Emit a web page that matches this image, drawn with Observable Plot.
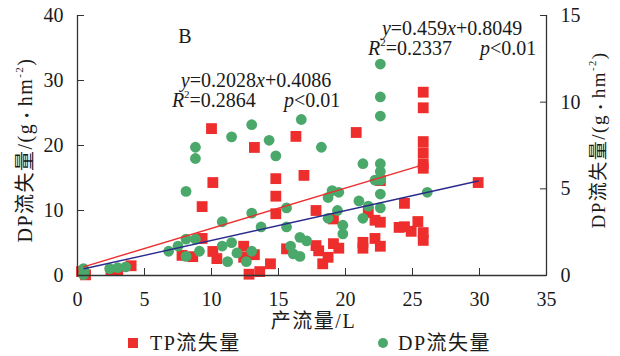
<!DOCTYPE html>
<html><head><meta charset="utf-8">
<script src="https://cdn.jsdelivr.net/npm/d3@7"></script>
<script src="https://cdn.jsdelivr.net/npm/@observablehq/plot@0.6"></script>
<style>
body{margin:0;background:#fff;}
#chart svg{display:block;}
.legend{position:relative;height:22px;width:620px;font-family:"Liberation Serif","Noto Sans CJK SC",serif;font-size:20px;color:#1a1a1a;}
.legend .sw{position:absolute;top:4px;width:10px;height:10px;}
.legend .lt{position:absolute;top:-3px;letter-spacing:1.5px;white-space:nowrap;line-height:24px;}
</style></head><body><div id="chart"></div>
<div class="legend" id="legend"></div>
<script>
// 产流量 (L) and TP流失量 (left axis, g·hm-2)
const tpX = [0.3,0.6,2.5,3.0,4.0,7.8,8.6,9.3,9.3,10.0,10.1,10.1,10.4,12.4,12.4,12.8,13.2,13.2,13.6,14.4,14.8,14.8,14.8,15.6,16.3,16.9,17.8,17.8,18.0,18.3,18.7,19.1,19.1,19.5,20.8,21.3,21.3,21.7,22.2,22.2,22.6,22.6,22.6,24.0,24.4,24.4,24.9,25.4,25.8,25.8,25.8,25.8,25.8,25.8,25.8,25.8,29.9];
const tpY = [0.6,0.1,0.8,0.8,1.5,3.1,2.9,5.7,10.6,22.6,14.3,3.7,2.6,4.5,2.8,0.2,3.2,19.7,0.6,1.8,14.9,12.2,9.5,4.1,21.4,15.4,10.0,4.6,3.8,1.8,2.8,8.7,4.9,4.2,22.0,5.1,4.2,9.7,8.5,5.7,8.2,4.5,14.6,7.4,7.5,11.1,6.8,8.3,6.6,5.4,16.5,17.2,18.9,20.6,25.8,28.2,14.3];
// 产流量 (L) and DP流失量 (right axis, g·hm-2)
const dpX = [0.45,0.45,0.5,2.4,3.0,3.6,6.8,7.5,8.1,8.1,8.1,8.8,8.8,8.8,9.1,10.8,10.8,11.2,11.5,11.5,11.9,12.6,13.0,13.0,13.0,13.7,14.3,14.8,15.6,15.6,15.9,16.1,16.6,16.6,16.7,17.1,18.2,18.7,18.7,19.0,19.4,19.5,19.8,19.8,21.0,21.3,21.3,21.7,22.2,22.6,22.6,22.6,22.6,22.6,22.6,22.6,22.6,26.1];
const dpY = [0.4,0.05,0.2,0.4,0.45,0.5,1.4,1.7,2.1,1.1,4.85,2.1,7.4,6.75,1.4,3.1,1.7,0.8,1.9,8.0,1.3,0.8,1.4,3.6,8.7,2.8,7.8,6.9,3.9,2.8,1.7,1.25,1.1,2.2,9.0,2.0,7.4,4.5,3.3,4.9,3.75,4.8,2.9,2.4,4.3,6.45,3.3,4.0,5.5,12.2,10.3,9.2,6.45,6.0,5.5,4.7,3.9,4.8];
// trend lines (end points)
const tpFitX = [0.5, 29.9], tpFitY = [1.03, 14.53];   // y=0.459x+0.8049, left axis
const dpFitX = [0.45, 25.4], dpFitY = [0.5, 6.3];     // right axis
// ticks
const xTicks = [0,5,10,15,20,25,30,35];
const leftTicks = [0,10,20,30,40];
const rightTicks = [0,5,10,15];
const leftMax = 40, rightMax = 15, xMax = 35;
// annotation anchors (data units, left axis)
const panelLabel = {x: 8.06, y: 35.7, text: "B"};
const eq1 = {x: 13.36, y1: 28.9, y2: 25.85, a: "0.2028", b: "0.4086", r2: "0.2864"};
const eq2 = {x: 27.99, y1: 36.9, y2: 33.85, a: "0.459", b: "0.8049", r2: "0.2337"};

const toLeft = v => v * leftMax / rightMax;
const tp = tpX.map((x, i) => ({x, y: tpY[i]}));
const dp = dpX.map((x, i) => ({x, y: toLeft(dpY[i])}));
const tpFit = tpFitX.map((x, i) => ({x, y: tpFitY[i]}));
const dpFit = dpFitX.map((x, i) => ({x, y: toLeft(dpFitY[i])}));

const font = '"Liberation Serif", "Noto Sans CJK SC", serif';
const plot = Plot.plot({
  width: 620, height: 334,
  marginLeft: 77, marginRight: 74, marginTop: 15, marginBottom: 59,
  style: {fontFamily: font, fontSize: "20px", color: "#1a1a1a", background: "#fff", overflow: "visible"},
  x: {domain: [0, xMax]},
  y: {domain: [0, leftMax]},
  marks: [
    Plot.dot(tp, {x: "x", y: "y", symbol: "square", r: 6.1, fill: "#ee2d2d"}),
    Plot.dot(dp, {x: "x", y: "y", symbol: "circle", r: 5.4, fill: "#4ba86b"}),
    Plot.line(tpFit, {x: "x", y: "y", stroke: "#2a2a8c", strokeWidth: 1.4}),
    Plot.line(dpFit, {x: "x", y: "y", stroke: "#ee2d2d", strokeWidth: 1.4}),
    Plot.ruleX([0, xMax], {stroke: "#333", strokeWidth: 1.3}),
    Plot.ruleY([0], {stroke: "#333", strokeWidth: 1.3}),
    Plot.axisX({ticks: xTicks, tickSize: -7, tickPadding: 23, label: null, stroke: "#333"}),
    Plot.axisY({ticks: leftTicks, anchor: "left", tickSize: -7, tickPadding: 21, label: null, stroke: "#333"}),
    Plot.axisY({ticks: rightTicks.map(toLeft), anchor: "right", tickSize: -7, tickPadding: 21, label: null, stroke: "#333",
      tickFormat: d => String(Math.round(d * rightMax / leftMax))})
  ]
});
document.getElementById("chart").appendChild(plot);

const sx = plot.scale("x"), sy = plot.scale("y");
const svg = d3.select(plot);
const g = svg.append("g").attr("font-family", font).attr("fill", "#1a1a1a");

g.append("text").attr("x", sx.apply(panelLabel.x)).attr("y", sy.apply(panelLabel.y))
  .attr("text-anchor", "middle").attr("font-size", 20).text(panelLabel.text);

function equation(e) {
  const cx = sx.apply(e.x);
  const t1 = g.append("text").attr("x", cx).attr("y", sy.apply(e.y1)).attr("text-anchor", "middle").attr("font-size", 20);
  t1.append("tspan").attr("font-style", "italic").text("y");
  t1.append("tspan").text("=" + e.a);
  t1.append("tspan").attr("font-style", "italic").text("x");
  t1.append("tspan").text("+" + e.b);
  const t2 = g.append("text").attr("x", cx).attr("y", sy.apply(e.y2)).attr("text-anchor", "middle").attr("font-size", 20);
  t2.append("tspan").attr("font-style", "italic").text("R");
  t2.append("tspan").attr("font-size", 11).attr("dy", -9).text("2");
  t2.append("tspan").attr("dy", 9).text("=" + e.r2);
  t2.append("tspan").attr("font-style", "italic").attr("dx", 28).text("p");
  t2.append("tspan").text("<0.01");
}
equation(eq1);
equation(eq2);

function yTitle(cx, cy, fs) {
  const t = g.append("text").attr("transform", `translate(${cx + 0.35 * fs},${cy}) rotate(-90)`)
    .attr("text-anchor", "middle").attr("font-size", fs).attr("letter-spacing", 1.5);
  t.append("tspan").text("DP流失量/(g");
  t.append("tspan").attr("font-size", fs * 0.7).text(" • ");
  t.append("tspan").text("hm");
  t.append("tspan").attr("font-size", fs * 0.55).attr("dy", -fs * 0.45).text("-2");
  t.append("tspan").attr("dy", fs * 0.45).text(")");
}
yTitle(25, 150, 20);
yTitle(598, 140, 19);

g.append("text").attr("x", (sx.apply(0) + sx.apply(xMax)) / 2 + 2).attr("y", 328)
  .attr("text-anchor", "middle").attr("font-size", 20).attr("letter-spacing", 1.5).text("产流量/L");

const legend = document.getElementById("legend");
legend.innerHTML =
  '<span class="sw" style="left:128px;background:#ee2d2d"></span>' +
  '<span class="lt" style="left:150px">TP流失量</span>' +
  '<span class="sw" style="left:378px;background:#4ba86b;border-radius:50%"></span>' +
  '<span class="lt" style="left:398px">DP流失量</span>';
</script></body></html>
